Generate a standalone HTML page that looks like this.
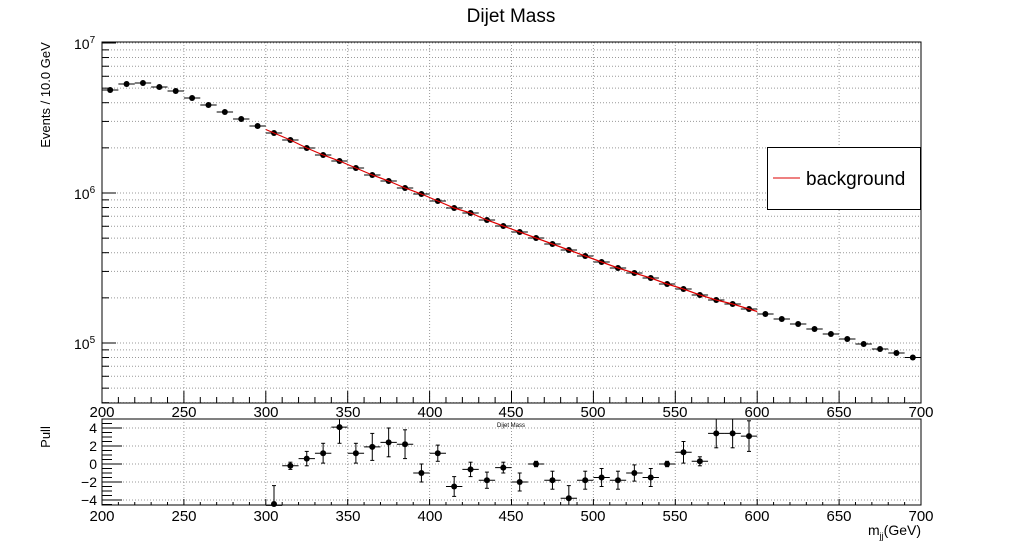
<!DOCTYPE html>
<html><head><meta charset="utf-8"><style>
body{margin:0;background:#fff;}
svg{display:block;font-family:"Liberation Sans",sans-serif;}
</style></head><body>
<svg id="s" width="1024" height="560" xmlns="http://www.w3.org/2000/svg">
<rect width="1024" height="560" fill="#fff"/>
<g id="grid"></g>
<g id="ax"></g>
<g id="data"></g>
<text x="511" y="22" font-size="19" text-anchor="middle">Dijet Mass</text>
<text x="511" y="427" font-size="6" text-anchor="middle">Dijet Mass</text>
<text transform="translate(50,95) rotate(-90)" font-size="13" text-anchor="middle">Events / 10.0 GeV</text>
<text transform="translate(50,437) rotate(-90)" font-size="13" text-anchor="middle">Pull</text>
<text x="74" y="49" font-size="14">10<tspan dy="-6" font-size="10">7</tspan></text>
<text x="74" y="199" font-size="14">10<tspan dy="-6" font-size="10">6</tspan></text>
<text x="74" y="349" font-size="14">10<tspan dy="-6" font-size="10">5</tspan></text>
<g font-size="14" text-anchor="end">
<text x="97" y="433">4</text><text x="97" y="451">2</text><text x="97" y="469">0</text>
<text x="97" y="487">−2</text><text x="97" y="505">−4</text></g>
<g font-size="15" text-anchor="middle">
<text x="102" y="417">200</text><text x="184" y="417">250</text><text x="266" y="417">300</text><text x="348" y="417">350</text><text x="430" y="417">400</text><text x="511" y="417">450</text><text x="593" y="417">500</text><text x="675" y="417">550</text><text x="757" y="417">600</text><text x="839" y="417">650</text><text x="921" y="417">700</text>
<text x="102" y="521">200</text><text x="184" y="521">250</text><text x="266" y="521">300</text><text x="348" y="521">350</text><text x="430" y="521">400</text><text x="511" y="521">450</text><text x="593" y="521">500</text><text x="675" y="521">550</text><text x="757" y="521">600</text><text x="839" y="521">650</text><text x="921" y="521">700</text>
</g>
<text x="921" y="535" font-size="14" text-anchor="end">m<tspan dy="4" font-size="9">jj</tspan><tspan dy="-4">(GeV)</tspan></text>
<rect x="767.5" y="147.5" width="153" height="62" fill="#fff" stroke="#000"/>
<line x1="773" y1="178" x2="800" y2="178" stroke="#d00" stroke-width="1"/>
<text x="806" y="185" font-size="19">background</text>
</svg>
<script>
var NS="http://www.w3.org/2000/svg";
function el(p,t,a){var e=document.createElementNS(NS,t);for(var k in a)e.setAttribute(k,a[k]);document.getElementById(p).appendChild(e);return e;}
var L=102,R=921,T=42,B=403,PT=419,PB=505;
function X(m){return L+(m-200)*(R-L)/500;}
function Y(v){return 343-(Math.log10(v)-5)*150;}
function PY(p){return 464-p*9;}
// grid
for(var m=250;m<700;m+=50){el("grid","line",{x1:X(m),y1:T,x2:X(m),y2:B,stroke:"#999","stroke-dasharray":"1,2"});el("grid","line",{x1:X(m),y1:PT,x2:X(m),y2:PB,stroke:"#999","stroke-dasharray":"1,2"});}
for(var d=4;d<7;d++)for(var k=1;k<10;k++){var y=Y(k*Math.pow(10,d));if(y>T&&y<B){el("grid","line",{x1:L,y1:y,x2:R,y2:y,stroke:"#999","stroke-dasharray":"1,2"});el("ax","line",{x1:L,y1:y,x2:L+(k==1?14:7),y2:y,stroke:"#000"});}}
el("grid","line",{x1:L,y1:T+1,x2:R,y2:T+1,stroke:"#999","stroke-dasharray":"1,2"});
el("ax","line",{x1:L,y1:T+1,x2:L+14,y2:T+1,stroke:"#000"});
for(var p=-4;p<=4;p+=2){el("grid","line",{x1:L,y1:PY(p),x2:R,y2:PY(p),stroke:"#999","stroke-dasharray":"1,2"});}
for(var p=-4.5;p<=5;p+=0.5){var y=PY(p);if(y>PT&&y<PB)el("ax","line",{x1:L,y1:y,x2:L+(p%2==0?20:10),y2:y,stroke:"#000"});}
for(var m=200;m<=700;m+=10){var big=m%50==0;el("ax","line",{x1:X(m),y1:B,x2:X(m),y2:B-(big?12:6),stroke:"#000"});el("ax","line",{x1:X(m),y1:PB,x2:X(m),y2:PB-(big?6:3),stroke:"#000"});}
el("ax","rect",{x:L,y:T,width:R-L,height:B-T,fill:"none",stroke:"#000"});
el("ax","rect",{x:L,y:PT,width:R-L,height:PB-PT,fill:"none",stroke:"#000"});
// data
var ys=[90,84,83,87,91,98,105,112,119,126,133,140,148,155,161,168,175,181,188,194,201,208,213,220,226,232,238,244,250,256,262,268,273,278,284,289,295,300,304,309,314,319,324,329,334,339,344,349,353,357.5];
var pts="";
for(var i=0;i<50;i++){var m=205+10*i,x=X(m),y=ys[i];
if(m>300&&m<600)pts+=x+","+y+" ";
el("data","line",{x1:X(m-5),y1:y,x2:X(m+5),y2:y,stroke:"#000"});
el("data","circle",{cx:x,cy:y,r:3,fill:"#000"});}
el("data","polyline",{points:X(300)+","+129.5+" "+pts+X(600)+","+311.5,fill:"none",stroke:"#d00","stroke-width":1.2});
var pv=[-4.6,-0.2,0.6,1.2,4.1,1.2,1.9,2.4,2.2,-1.0,1.2,-2.5,-0.6,-1.8,-0.4,-2.0,0.0,-1.8,-3.8,-1.8,-1.5,-1.8,-1.0,-1.5,0.0,1.3,0.3,3.4,3.4,3.1];
var pe=[2.2,0.4,0.8,1.1,1.8,1.1,1.5,1.6,1.6,1.0,0.9,1.1,0.8,0.9,0.6,1.0,0.3,1.0,1.4,1.0,1.0,1.0,0.9,1.0,0.3,1.2,0.5,1.6,1.6,1.7];
for(var i=0;i<30;i++){var m=305+10*i,x=X(m),y=PY(pv[i]);
var y1=Math.max(PT,PY(pv[i]+pe[i])),y2=Math.min(PB,PY(pv[i]-pe[i]));
el("data","line",{x1:x,y1:y1,x2:x,y2:y2,stroke:"#000"});
el("data","line",{x1:x-2,y1:y1,x2:x+2,y2:y1,stroke:"#000"});
if(y2<PB)el("data","line",{x1:x-2,y1:y2,x2:x+2,y2:y2,stroke:"#000"});
el("data","line",{x1:X(m-5),y1:y,x2:X(m+5),y2:y,stroke:"#000"});
el("data","circle",{cx:x,cy:Math.min(y,PB-1),r:3,fill:"#000"});}
</script>
</body></html>
